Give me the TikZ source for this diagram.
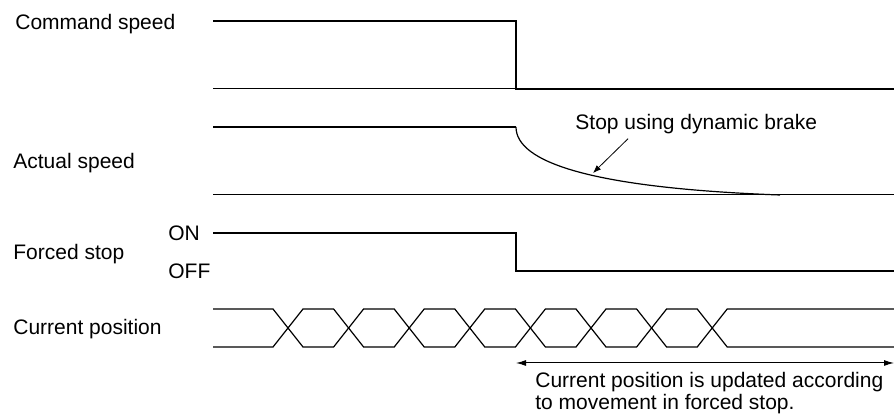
\documentclass[tikz,border=0pt]{standalone}
\usepackage{fontspec}
\setmainfont{Liberation Sans}
\usetikzlibrary{arrows.meta,calc}

\begin{document}
\begin{tikzpicture}[x=0.5pt, y=-0.5pt, >=Latex,
    font=\fontsize{10.5}{8.8}\selectfont,
    sigline/.style={line width=1pt},
    refline/.style={line width=0.5pt},
    dataline/.style={line width=0.6pt},
    lbl/.style={anchor=base west, inner sep=0pt}]

  \useasboundingbox (0,0) rectangle (894,415);

  %% ── Signal names (left margin) ──────────────────────────────
  \node[lbl] (cmd)  at (15,30)  {Command speed};
  \node[lbl] (act)  at (13,169) {Actual speed};
  \node[lbl] (fst)  at (13,260) {Forced stop};
  \node[lbl] (cpos) at (13,335) {Current position};
  \node[lbl] (on)   at (168,241) {ON};
  \node[lbl] (off)  at (168,279) {OFF};

  %% ── Command speed ───────────────────────────────────────────
  \draw[refline] (213,89) -- (894,89);
  \draw[sigline] (213,21) -- (516,21) -- (516,89) -- (894,89);

  %% ── Actual speed (dynamic brake decay) ──────────────────────
  \draw[refline] (213,195) -- (894,195);
  \draw[sigline] (213,127) -- (516,127);
  \draw[dataline] (516,127) .. controls (516,162) and (590,188) .. (780,195);

  \node[lbl] (brake) at (575,130) {Stop using dynamic brake};
  \coordinate (brk_tip) at (593,173);
  \draw[->, line width=0.4pt, >={Latex[length=4pt,width=3pt]}]
    ($(brake.south west)+(53,4)$) -- (brk_tip);

  %% ── Forced stop ─────────────────────────────────────────────
  \draw[sigline] (213,233) -- (516,233) -- (516,271) -- (894,271);

  %% ── Current position (changing data) ────────────────────────
  \draw[dataline] (213,309) \foreach \k in {0,...,7} {
      -- ({273+60.6*\k},{328-19*cos(180*\k)})
      -- ({303+60.6*\k},{328+19*cos(180*\k)}) } -- (894,309);
  \draw[dataline] (213,347) \foreach \k in {0,...,7} {
      -- ({273+60.6*\k},{328+19*cos(180*\k)})
      -- ({303+60.6*\k},{328-19*cos(180*\k)}) } -- (894,347);

  %% ── Update span during forced stop ──────────────────────────
  \coordinate (upd_l) at (516,363);
  \coordinate (upd_r) at (894,363);
  \draw[<->, line width=0.5pt, >={Latex[length=5pt,width=3pt]}] (upd_l) -- (upd_r);
  \node[inner sep=0pt, anchor=north west, align=left] (upd) at (535,372)
    {Current position is updated according\\to movement in forced stop.};

\end{tikzpicture}
\end{document}
